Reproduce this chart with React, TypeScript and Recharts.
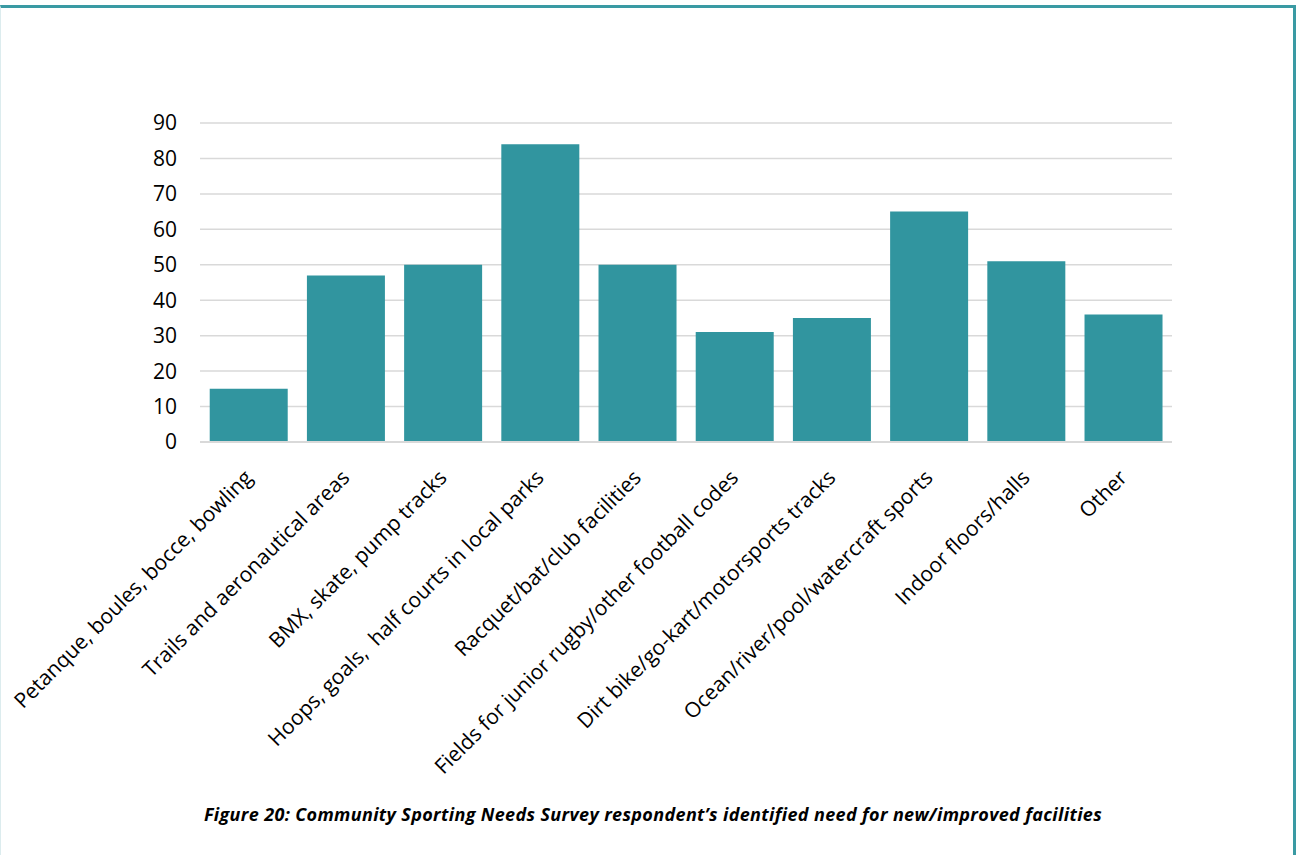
import React from "react";
import { BarChart, Bar, XAxis, YAxis, CartesianGrid } from "recharts";

const categories = [
  "Petanque, boules, bocce, bowling",
  "Trails and aeronautical areas",
  "BMX, skate, pump tracks",
  "Hoops, goals,  half courts in local parks",
  "Racquet/bat/club facilities",
  "Fields for junior rugby/other football codes",
  "Dirt bike/go-kart/motorsports tracks",
  "Ocean/river/pool/watercraft sports",
  "Indoor floors/halls",
  "Other",
];

const responses = [15, 47, 50, 84, 50, 31, 35, 65, 51, 36];

const yTicks = [0, 10, 20, 30, 40, 50, 60, 70, 80, 90];

const caption =
  "Figure 20: Community Sporting Needs Survey respondent\u2019s identified need for new/improved facilities";

const data = categories.map((name, i) => ({ name, value: responses[i] }));

const FONT = "'Open Sans', sans-serif";

// rotated category label, anchored at its end
const AngledTick = (props: any) => {
  const { x, y, payload } = props;
  const px = x + 5;
  const py = y + 29;
  return (
    <text
      x={px}
      y={py}
      transform={`rotate(-45, ${px}, ${py})`}
      textAnchor="end"
      fontFamily={FONT}
      fontSize={21}
      fill="#000"
      style={{ whiteSpace: "pre" }}
    >
      {payload.value}
    </text>
  );
};

export default function App() {
  return (
    <div
      style={{
        position: "absolute",
        left: 0,
        top: 0,
        width: 1304,
        height: 855,
        background: "#fff",
        overflow: "hidden",
      }}
    >
      <div
        style={{
          position: "absolute",
          left: 0,
          top: 5,
          width: 1296,
          height: 900,
          borderTop: "3px solid #3a9aa3",
          borderRight: "3px solid #3a9aa3",
          borderLeft: "1px solid #dcecee",
          boxSizing: "border-box",
        }}
      />
      <div style={{ position: "absolute", left: 0, top: 0 }}>
        <BarChart
          width={1304}
          height={855}
          data={data}
          margin={{ top: 123, right: 132, left: 0, bottom: 0 }}
          barCategoryGap="10%"
        >
          <CartesianGrid
            vertical={false}
            stroke="#d9d9d9"
            strokeWidth={1.5}
          />
          <XAxis
            dataKey="name"
            height={413}
            interval={0}
            tickLine={false}
            axisLine={{ stroke: "#d9d9d9", strokeWidth: 2 }}
            tick={<AngledTick />}
          />
          <YAxis
            width={200}
            domain={[0, 90]}
            ticks={yTicks}
            interval={0}
            axisLine={false}
            tickLine={false}
            tickSize={6}
            tickMargin={17}
            tick={{ fontFamily: FONT, fontSize: 21, fill: "#000" }}
          />
          <Bar dataKey="value" fill="#31959f" isAnimationActive={false} />
        </BarChart>
      </div>
      <div
        style={{
          position: "absolute",
          left: 0,
          width: 1306,
          top: 802,
          textAlign: "center",
          fontFamily: FONT,
          fontStyle: "italic",
          fontWeight: 700,
          fontSize: 18,
          letterSpacing: 0.35,
          color: "#000",
        }}
      >
        {caption}
      </div>
    </div>
  );
}
